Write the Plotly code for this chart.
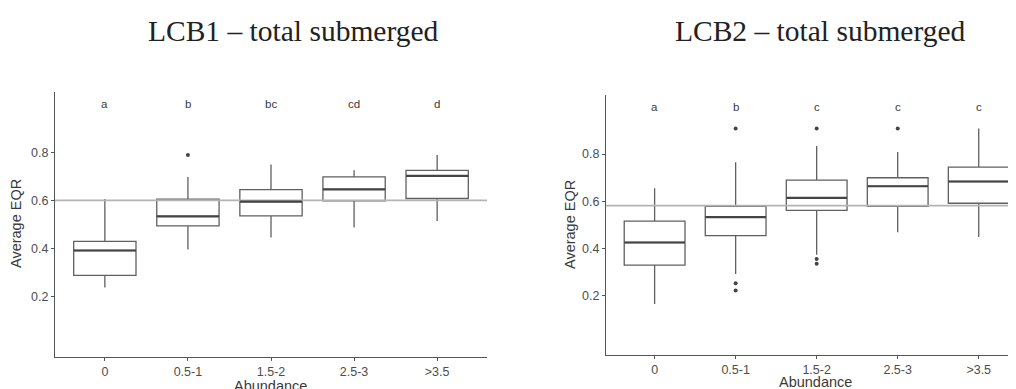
import plotly.graph_objects as go

categories = ["0", "0.5-1", "1.5-2", "2.5-3", ">3.5"]
letters_lcb1 = ["a", "b", "bc", "cd", "d"]
letters_lcb2 = ["a", "b", "c", "c", "c"]

# LCB1 box statistics
lcb1_lower = [0.239, 0.396, 0.446, 0.488, 0.515]
lcb1_q1 = [0.289, 0.494, 0.536, 0.598, 0.608]
lcb1_med = [0.392, 0.534, 0.595, 0.646, 0.702]
lcb1_q3 = [0.430, 0.605, 0.645, 0.698, 0.725]
lcb1_upper = [0.606, 0.697, 0.749, 0.725, 0.788]
lcb1_out_x = [1]
lcb1_out_y = [0.789]
lcb1_ref = 0.60

# LCB2 box statistics
lcb2_lower = [0.166, 0.293, 0.374, 0.469, 0.449]
lcb2_q1 = [0.330, 0.455, 0.562, 0.579, 0.592]
lcb2_med = [0.426, 0.533, 0.615, 0.664, 0.684]
lcb2_q3 = [0.516, 0.579, 0.690, 0.700, 0.745]
lcb2_upper = [0.656, 0.766, 0.834, 0.809, 0.908]
lcb2_out_x = [1, 1, 1, 2, 2, 2, 3]
lcb2_out_y = [0.908, 0.254, 0.223, 0.908, 0.356, 0.336, 0.908]
lcb2_ref = 0.582

# page body has an 8px offset; figure is sized to fill the rest of the window
W, H = 1008, 381
OFF = 8

BOX_W = 0.75
LINE_C = "#606060"
MED_C = "#444444"
SANS = "Liberation Sans, Arial"
xpos = list(range(len(categories)))

fig = go.Figure()


def px_x(x):
    return (x - OFF) / W


def px_y(y):
    return 1 - (y - OFF) / H


def add_panel(xr, yr, lower, q1, med, q3, upper, out_x, out_y, ref, letters, xrange):
    fig.add_trace(go.Scatter(x=list(xrange), y=[ref, ref], mode="lines",
                             line=dict(color="#b4b4b4", width=1.6),
                             xaxis=xr, yaxis=yr, showlegend=False, hoverinfo="skip"))
    fig.add_trace(go.Box(x=xpos, q1=q1, median=med, q3=q3, lowerfence=lower,
                         upperfence=upper, width=BOX_W, whiskerwidth=0,
                         fillcolor="rgba(255,255,255,0)",
                         line=dict(color=LINE_C, width=1.3),
                         xaxis=xr, yaxis=yr, showlegend=False, boxpoints=False))
    for i, m in enumerate(med):
        fig.add_trace(go.Scatter(x=[i - BOX_W / 2, i + BOX_W / 2], y=[m, m], mode="lines",
                                 line=dict(color=MED_C, width=2.2),
                                 xaxis=xr, yaxis=yr, showlegend=False, hoverinfo="skip"))
    fig.add_trace(go.Scatter(x=out_x, y=out_y, mode="markers",
                             marker=dict(color="#444444", size=4),
                             xaxis=xr, yaxis=yr, showlegend=False))
    for i, t in enumerate(letters):
        fig.add_annotation(x=i, y=1.0, text=t, showarrow=False, xref=xr, yref=yr,
                           font=dict(family=SANS, size=11.5, color="#3a3a3a"))


add_panel("x", "y", lcb1_lower, lcb1_q1, lcb1_med, lcb1_q3, lcb1_upper,
          lcb1_out_x, lcb1_out_y, lcb1_ref, letters_lcb1, (-0.6, 4.6))
add_panel("x2", "y2", lcb2_lower, lcb2_q1, lcb2_med, lcb2_q3, lcb2_upper,
          lcb2_out_x, lcb2_out_y, lcb2_ref, letters_lcb2, (-0.6, 4.46))


def xaxis_style(rng, dom, anchor):
    return dict(domain=dom, range=list(rng), anchor=anchor,
                tickmode="array", tickvals=xpos, ticktext=categories,
                showline=True, linecolor="#555555", linewidth=1.2,
                ticks="outside", ticklen=3, tickcolor="#555555",
                showgrid=False, zeroline=False, automargin=False,
                tickfont=dict(family=SANS, size=12.5, color="#4d4d4d"))


def yaxis_style(dom, anchor):
    return dict(domain=dom, range=[-0.05, 1.05], anchor=anchor,
                tickmode="array", tickvals=[0.2, 0.4, 0.6, 0.8],
                ticktext=["0.2", "0.4", "0.6", "0.8"],
                showline=True, linecolor="#555555", linewidth=1.2,
                ticks="outside", ticklen=3, tickcolor="#555555",
                showgrid=False, zeroline=False, automargin=False,
                tickfont=dict(family=SANS, size=12.5, color="#4d4d4d"))


fig.update_layout(
    width=W, height=H,
    margin=dict(l=0, r=0, t=0, b=0),
    paper_bgcolor="white", plot_bgcolor="white",
    xaxis=xaxis_style((-0.6, 4.6), [px_x(55), px_x(487)], "y"),
    yaxis=yaxis_style([px_y(357), px_y(92)], "x"),
    xaxis2=xaxis_style((-0.6, 4.46), [px_x(606), 1.0], "y2"),
    yaxis2=yaxis_style([px_y(355), px_y(95)], "x2"),
)

title_font = dict(family="Liberation Serif, Times New Roman", size=29.5, color="#222222")
fig.add_annotation(x=px_x(293), y=px_y(31), xref="paper", yref="paper",
                   text="LCB1 – total submerged", showarrow=False, font=title_font,
                   xanchor="center", yanchor="middle")
fig.add_annotation(x=px_x(820), y=px_y(31), xref="paper", yref="paper",
                   text="LCB2 – total submerged", showarrow=False, font=title_font,
                   xanchor="center", yanchor="middle")

axt_font = dict(family=SANS, size=14.5, color="#3a3a3a")
fig.add_annotation(x=px_x(270), y=px_y(386), xref="paper", yref="paper", text="Abundance",
                   showarrow=False, font=axt_font, xanchor="center", yanchor="middle")
fig.add_annotation(x=px_x(815), y=px_y(382), xref="paper", yref="paper", text="Abundance",
                   showarrow=False, font=axt_font, xanchor="center", yanchor="middle")
fig.add_annotation(x=px_x(16), y=px_y(224), xref="paper", yref="paper", text="Average EQR",
                   showarrow=False, font=axt_font, textangle=-90,
                   xanchor="center", yanchor="middle")
fig.add_annotation(x=px_x(570), y=px_y(225), xref="paper", yref="paper", text="Average EQR",
                   showarrow=False, font=axt_font, textangle=-90,
                   xanchor="center", yanchor="middle")

fig.write_html("out.html")
